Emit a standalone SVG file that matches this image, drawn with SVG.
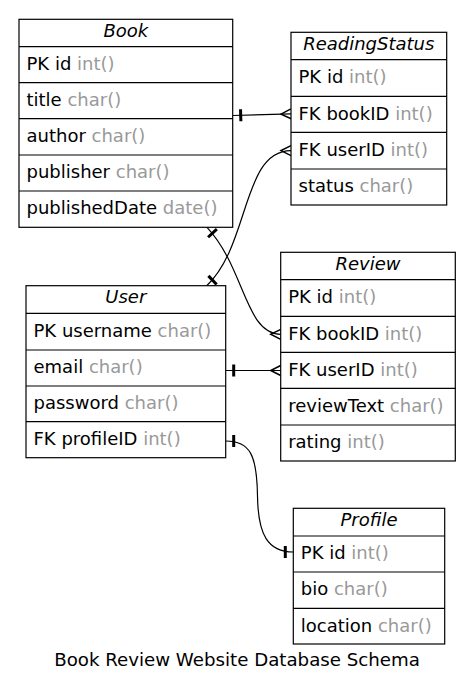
<svg xmlns="http://www.w3.org/2000/svg" width="476" height="694" viewBox="0 0 476 694">
<style>
.box{fill:#fff;stroke:#000;stroke-width:1.2}
.sep{stroke:#000;stroke-width:1.2}
.hd{font-family:"DejaVu Sans",sans-serif;font-size:18px;font-style:italic;fill:#000;text-anchor:middle}
.row{font-family:"DejaVu Sans",sans-serif;font-size:18px;fill:#000}
.ty{fill:#999}
.title{font-family:"DejaVu Sans",sans-serif;font-size:18.2px;fill:#000;text-anchor:middle}
.edge{fill:none;stroke:#000;stroke-width:1.2}
</style>
<defs>
<marker id="teeS" markerUnits="userSpaceOnUse" markerWidth="1" markerHeight="1" orient="auto" overflow="visible"><path d="M8,-6 L8,6" stroke="#000" stroke-width="3" fill="none"/></marker>
<marker id="teeE" markerUnits="userSpaceOnUse" markerWidth="1" markerHeight="1" orient="auto" overflow="visible"><path d="M-8,-6 L-8,6" stroke="#000" stroke-width="3" fill="none"/></marker>
<marker id="crow" markerUnits="userSpaceOnUse" markerWidth="1" markerHeight="1" orient="auto" overflow="visible"><path d="M0,-5 L-10,0 L0,5" stroke="#000" stroke-width="1.5" fill="none"/></marker>
</defs>
<rect width="476" height="694" fill="#fff"/>

<g id="connectors">
<path class="edge" d="M232.7,115.5 L291,113.8" marker-start="url(#teeS)" marker-end="url(#crow)"/>
<path class="edge" d="M207,227.3 C245,268 245,334 280.7,334.3" marker-start="url(#teeS)" marker-end="url(#crow)"/>
<path class="edge" d="M206.7,285.7 C250,245 242,150.6 291,150.6" marker-start="url(#teeS)" marker-end="url(#crow)"/>
<path class="edge" d="M225.7,370.5 L280.7,370.5" marker-start="url(#teeS)" marker-end="url(#crow)"/>
<path class="edge" d="M225.7,441 C250,441 257,455 257.5,496 C258,535 268,552 293.3,552" marker-start="url(#teeS)" marker-end="url(#teeE)"/>
</g>

<g id="Book">
<rect class="box" x="19" y="19.3" width="213.7" height="208"/>
<line class="sep" x1="19" y1="46.7" x2="232.7" y2="46.7"/>
<line class="sep" x1="19" y1="82.7" x2="232.7" y2="82.7"/>
<line class="sep" x1="19" y1="118.7" x2="232.7" y2="118.7"/>
<line class="sep" x1="19" y1="155" x2="232.7" y2="155"/>
<line class="sep" x1="19" y1="191" x2="232.7" y2="191"/>
<text class="hd" x="125.8" y="36.5">Book</text>
<text class="row" x="26.5" y="70">PK id <tspan class="ty">int()</tspan></text>
<text class="row" x="26.5" y="106">title <tspan class="ty">char()</tspan></text>
<text class="row" x="26.5" y="142">author <tspan class="ty">char()</tspan></text>
<text class="row" x="26.5" y="178">publisher <tspan class="ty">char()</tspan></text>
<text class="row" x="26.5" y="214">publishedDate <tspan class="ty">date()</tspan></text>
</g>

<g id="ReadingStatus">
<rect class="box" x="291" y="32.3" width="155.7" height="172.7"/>
<line class="sep" x1="291" y1="59.7" x2="446.7" y2="59.7"/>
<line class="sep" x1="291" y1="96.3" x2="446.7" y2="96.3"/>
<line class="sep" x1="291" y1="132.3" x2="446.7" y2="132.3"/>
<line class="sep" x1="291" y1="169" x2="446.7" y2="169"/>
<text class="hd" x="368.8" y="49.7">ReadingStatus</text>
<text class="row" x="298.5" y="83">PK id <tspan class="ty">int()</tspan></text>
<text class="row" x="298.5" y="119.5">FK bookID <tspan class="ty">int()</tspan></text>
<text class="row" x="298.5" y="156">FK userID <tspan class="ty">int()</tspan></text>
<text class="row" x="298.5" y="192">status <tspan class="ty">char()</tspan></text>
</g>

<g id="User">
<rect class="box" x="26" y="285.7" width="199.7" height="172"/>
<line class="sep" x1="26" y1="313.3" x2="225.7" y2="313.3"/>
<line class="sep" x1="26" y1="350" x2="225.7" y2="350"/>
<line class="sep" x1="26" y1="386" x2="225.7" y2="386"/>
<line class="sep" x1="26" y1="421.7" x2="225.7" y2="421.7"/>
<text class="hd" x="125.8" y="303">User</text>
<text class="row" x="33.5" y="336.5">PK username <tspan class="ty">char()</tspan></text>
<text class="row" x="33.5" y="373">email <tspan class="ty">char()</tspan></text>
<text class="row" x="33.5" y="409">password <tspan class="ty">char()</tspan></text>
<text class="row" x="33.5" y="445">FK profileID <tspan class="ty">int()</tspan></text>
</g>

<g id="Review">
<rect class="box" x="280.7" y="252.3" width="174.6" height="208.7"/>
<line class="sep" x1="280.7" y1="279.7" x2="455.3" y2="279.7"/>
<line class="sep" x1="280.7" y1="316.3" x2="455.3" y2="316.3"/>
<line class="sep" x1="280.7" y1="352.3" x2="455.3" y2="352.3"/>
<line class="sep" x1="280.7" y1="388.3" x2="455.3" y2="388.3"/>
<line class="sep" x1="280.7" y1="425" x2="455.3" y2="425"/>
<text class="hd" x="368" y="269.7">Review</text>
<text class="row" x="288.2" y="303">PK id <tspan class="ty">int()</tspan></text>
<text class="row" x="288.2" y="339.5">FK bookID <tspan class="ty">int()</tspan></text>
<text class="row" x="288.2" y="375.5">FK userID <tspan class="ty">int()</tspan></text>
<text class="row" x="288.2" y="411.5">reviewText <tspan class="ty">char()</tspan></text>
<text class="row" x="288.2" y="448">rating <tspan class="ty">int()</tspan></text>
</g>

<g id="Profile">
<rect class="box" x="293.3" y="508.3" width="151.4" height="135.7"/>
<line class="sep" x1="293.3" y1="536" x2="444.7" y2="536"/>
<line class="sep" x1="293.3" y1="572" x2="444.7" y2="572"/>
<line class="sep" x1="293.3" y1="608.3" x2="444.7" y2="608.3"/>
<text class="hd" x="369" y="525.7">Profile</text>
<text class="row" x="300.8" y="559">PK id <tspan class="ty">int()</tspan></text>
<text class="row" x="300.8" y="595">bio <tspan class="ty">char()</tspan></text>
<text class="row" x="300.8" y="631.5">location <tspan class="ty">char()</tspan></text>
</g>

<text class="title" x="237" y="665.5">Book Review Website Database Schema</text>
</svg>
